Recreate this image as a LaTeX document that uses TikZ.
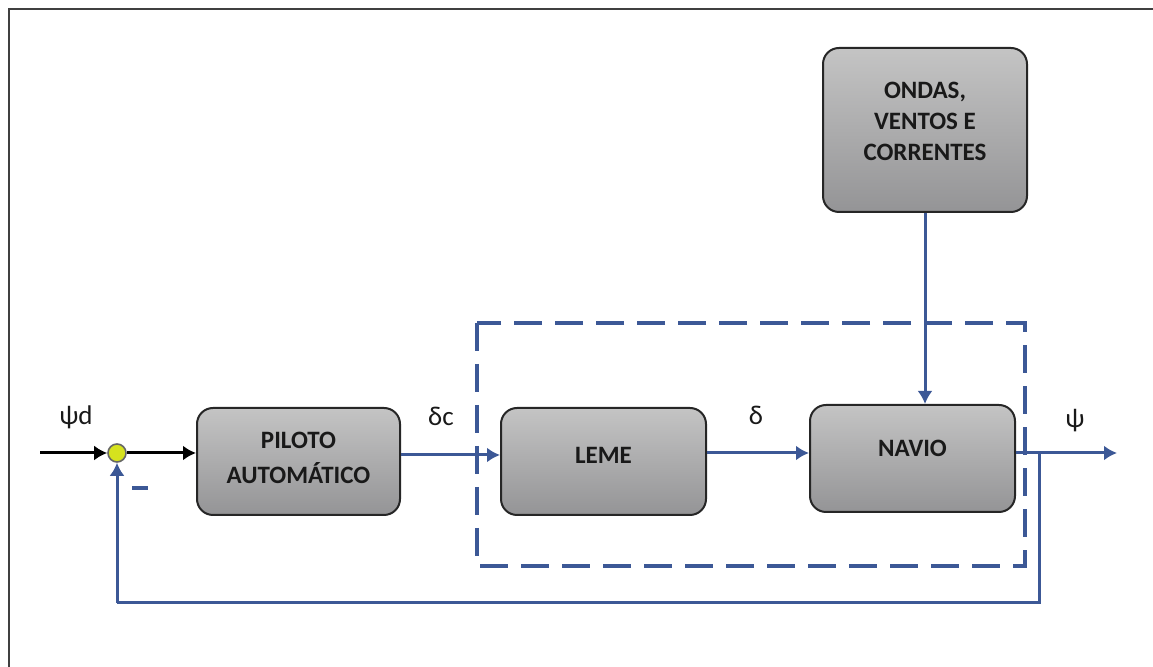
\documentclass[tikz,border=0pt]{standalone}
\usepackage{fontspec}
\setmainfont{Carlito}
\usetikzlibrary{arrows.meta,positioning}
\definecolor{lineblue}{RGB}{60,88,150}
\definecolor{boxtop}{RGB}{196,196,196}
\definecolor{boxbot}{RGB}{148,148,150}
\definecolor{sumfill}{RGB}{214,226,30}
\tikzset{
  blockbox/.style={draw=black!85, line width=1pt, rounded corners=8pt,
    top color=boxtop, bottom color=boxbot, inner sep=0pt},
  blocktext/.style={font=\bfseries\fontsize{12.5}{17.5}\selectfont, align=center, text=black!90, inner sep=0pt},
  siglabel/.style={font=\fontsize{13.5}{15}\selectfont, text=black!90, inner sep=0pt},
  bluearrow/.style={draw=lineblue, line width=1.5pt, -{Latex[length=6.5pt,width=7.5pt]}},
  blackarrow/.style={draw=black, line width=1.5pt, -{Latex[length=6.5pt,width=7.5pt]}},
  blueline/.style={draw=lineblue, line width=1.5pt},
  dashbox/.style={draw=lineblue, line width=1.6pt, dash pattern=on 14pt off 6.5pt},
}
\begin{document}
\begin{tikzpicture}[x=0.5pt,y=-0.5pt]
\useasboundingbox (0,0) rectangle (1153,667);
% outer frame (top and left visible)
\draw[black!75, line width=1pt] (9,667) -- (9,9) -- (1153,9);

% dashed plant box
\draw[dashbox] (477,323) rectangle (1025,566);

% blocks
\node[blockbox, minimum width=101.5pt, minimum height=53.5pt] (piloto) at (298.5,461.5) {};
\node[blocktext] (pilotot) at (298.5,458) {PILOTO\\AUTOMÁTICO};
\node[blockbox, minimum width=102.5pt, minimum height=53.5pt] (leme) at (603.5,461.5) {};
\node[blocktext] (lemet) at (603.5,455) {LEME};
\node[blockbox, minimum width=102.5pt, minimum height=53.5pt] (navio) at (912.5,458.5) {};
\node[blocktext] (naviot) at (912.5,448) {NAVIO};
\node[blockbox, minimum width=102pt, minimum height=82pt] (ondas) at (925,130) {};
\node[blocktext, font=\bfseries\fontsize{12.5}{15.5}\selectfont] (ondast) at (925,121) {ONDAS,\\VENTOS E\\CORRENTES};

% summing junction
\node[circle, draw=black!60, line width=0.8pt, fill=sumfill, minimum size=9pt, inner sep=0pt] (sum) at (117,453) {};

% coordinates
\coordinate (in) at (40,453);
\coordinate (out) at (1117,453);
\coordinate (tap) at (1039,453);
\coordinate (fbr) at (1039,603);
\coordinate (fbl) at (117,603);

% connectors
\draw[blackarrow] (in) -- (sum.west);
\draw[blackarrow] (sum.east) -- (piloto.west |- sum.east);
\draw[bluearrow] (piloto.east |- 0,455) -- (leme.west |- 0,455);
\draw[bluearrow] (leme.east |- 0,453) -- (navio.west |- 0,453);
\draw[bluearrow] (navio.east |- 0,453) -- (out);
\draw[bluearrow] (ondas.south) -- (navio.north -| ondas.south);
\draw[blueline] (tap) -- (fbr) -- (fbl);
\draw[bluearrow] (fbl) -- (sum.south);

% labels
\node[siglabel] (psid) at (76,417) {ψd};
\node[siglabel] (deltac) at (441,416) {δc};
\node[siglabel] (delta) at (756,415) {δ};
\node[siglabel] (psi) at (1075,421) {ψ};
\node[inner sep=0pt, minimum width=8pt, minimum height=1.6pt, fill=lineblue] (minus) at (140,488) {};
\end{tikzpicture}
\end{document}
